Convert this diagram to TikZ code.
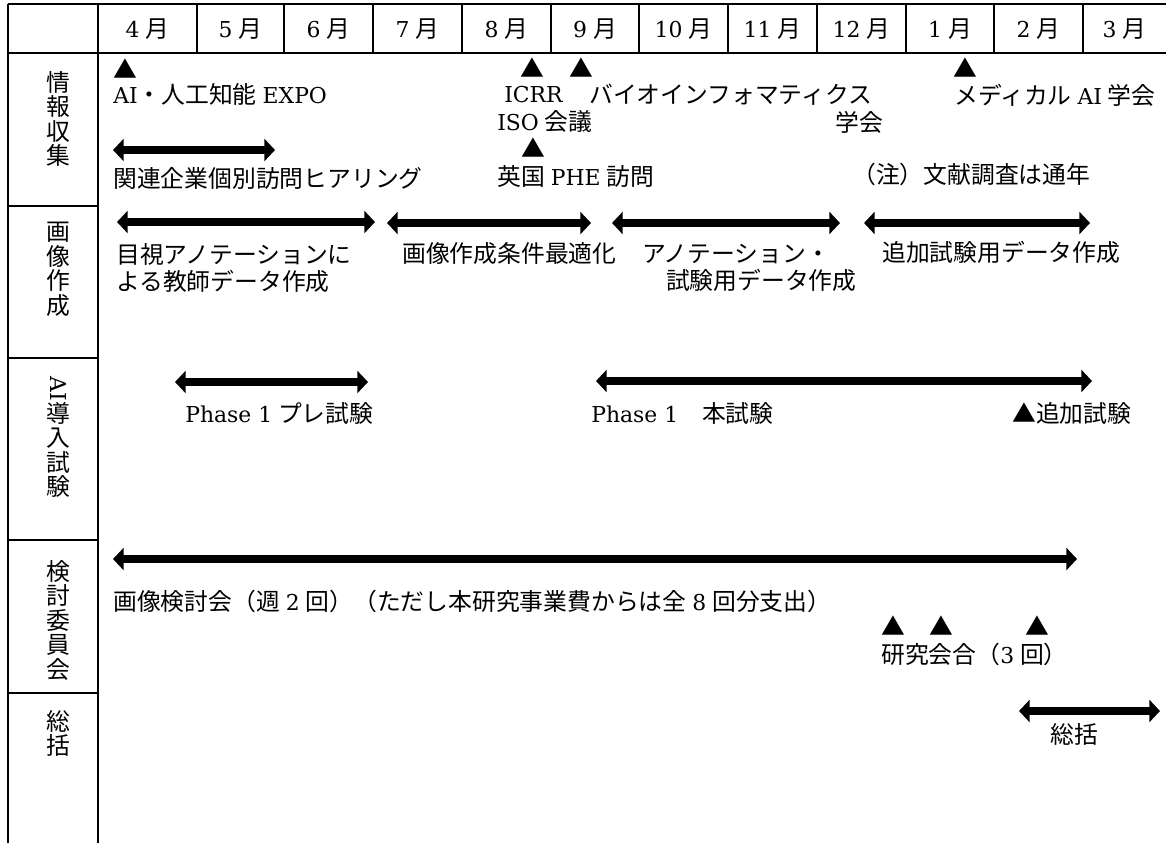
\documentclass[tikz,border=0pt]{standalone}
\usepackage{fontspec}
\newfontfamily\jp{Noto Sans CJK JP}
\newfontfamily\latf{DejaVu Serif}[Scale=0.92]
\usetikzlibrary{arrows.meta}
\newcommand\lat[1]{{\latf #1}}
\newcommand\gp{\hspace{0.25em}}
\begin{document}
\begin{tikzpicture}[x=0.75pt,y=-0.75pt,
  tbl/.style={line width=1.4pt},
  bar/.style={line width=6pt,{Triangle[width=16.5pt,length=8pt]}-{Triangle[width=16.5pt,length=8pt]}},
  txt/.style={font=\jp\fontsize{17.85}{20.5}\selectfont,inner sep=0pt,anchor=west,align=left},
  mon/.style={font=\jp\fontsize{17.85}{20.5}\selectfont,inner sep=0pt,anchor=center},
  lbl/.style={font=\jp\fontsize{17.85}{18.4}\selectfont,inner sep=0pt,anchor=north,align=center},
  tri/.style={font=\jp\fontsize{17.85}{20.5}\selectfont,inner sep=0pt,anchor=center}]
\useasboundingbox (0,0) rectangle (1166,843);
% table frame
\draw[tbl] (8,4) -- (1166,4);
\draw[tbl] (8,53) -- (1166,53);
\draw[tbl] (8,4) -- (8,843);
\draw[tbl] (98,4) -- (98,843);
\foreach \x in {197,284,373,462,551,639,728,817,906,994,1083}
  \draw[tbl] (\x,4) -- (\x,53);
\foreach \y in {206,358,540,693}
  \draw[tbl] (8,\y) -- (98,\y);
% months
\foreach \x/\m/\n in {147.5/4/m4,240.5/5/m5,328.5/6/m6,417.5/7/m7,506.5/8/m8,595/9/m9,683.5/10/m10,772.5/11/m11,861.5/12/m12,950/1/m1,1038.5/2/m2,1124.5/3/m3}
  \node[mon] (\n) at (\x,29) {\lat{\m}\gp 月};
% row labels
\node[lbl] (r1) at (58,71) {情\\報\\収\\集};
\node[lbl] (r2) at (58,222) {画\\像\\作\\成};
\node[lbl] (r3) at (58,376) {\rotatebox{-90}{\lat{AI}}\\導\\入\\試\\験};
\node[lbl] (r4) at (58,560) {検\\討\\委\\員\\会};
\node[lbl] (r5) at (58,710) {総\\括};
% row 1: information gathering
\node[tri] (k1) at (125,69) {▲};
\node[txt] (t1) at (113,94) {\lat{AI}・人工知能\gp\lat{EXPO}};
\node[tri] (k2) at (532,68) {▲};
\node[tri] (k3) at (581,68) {▲};
\node[txt] (t2) at (504,95) {\lat{ICRR}};
\node[txt] (t3) at (589,95) {バイオインフォマティクス};
\node[txt] (t4) at (497,122) {\lat{ISO}\gp 会議};
\node[txt] (t5) at (835,122) {学会};
\node[tri] (k4) at (965,68) {▲};
\node[txt] (t6) at (954,95) {メディカル\gp\lat{AI}\gp 学会};
\coordinate (a1l) at (113,150); \coordinate (a1r) at (275,150);
\draw[bar] (a1l) -- (a1r);
\node[txt] (t7) at (113,178) {関連企業個別訪問ヒアリング};
\node[tri] (k5) at (533,148) {▲};
\node[txt] (t8) at (497,176) {英国\gp\lat{PHE}\gp 訪問};
\node[txt] (t9) at (852,174) {（注）文献調査は通年};
% row 2: image creation
\coordinate (a2l) at (117,222); \coordinate (a2r) at (375,222);
\draw[bar] (a2l) -- (a2r);
\coordinate (a3l) at (387,223); \coordinate (a3r) at (591,223);
\draw[bar] (a3l) -- (a3r);
\coordinate (a4l) at (612,223); \coordinate (a4r) at (840,223);
\draw[bar] (a4l) -- (a4r);
\coordinate (a5l) at (864,223); \coordinate (a5r) at (1090,223);
\draw[bar] (a5l) -- (a5r);
\node[txt] (t10) at (116,268) {目視アノテーションに\\よる教師データ作成};
\node[txt] (t11) at (402,254) {画像作成条件最適化};
\node[txt] (t12) at (642,268) {アノテーション・\\\hspace*{1em}試験用データ作成};
\node[txt] (t13) at (882,252) {追加試験用データ作成};
% row 3: AI trial
\coordinate (a6l) at (175,382); \coordinate (a6r) at (368,382);
\draw[bar] (a6l) -- (a6r);
\coordinate (a7l) at (596,381); \coordinate (a7r) at (1092,381);
\draw[bar] (a7l) -- (a7r);
\node[txt] (t14) at (185,413) {\lat{Phase 1}\gp プレ試験};
\node[txt] (t15) at (591,413) {\lat{Phase 1}　本試験};
\node[txt] (t16) at (1012,413) {▲追加試験};
% row 4: committee
\coordinate (a8l) at (113,559); \coordinate (a8r) at (1077,559);
\draw[bar] (a8l) -- (a8r);
\node[txt] (t17) at (113,601) {画像検討会（週\gp\lat{2}\gp 回）（ただし本研究事業費からは全\gp\lat{8}\gp 回分支出）};
\node[tri] (k6) at (893,626) {▲};
\node[tri] (k7) at (941,626) {▲};
\node[tri] (k8) at (1037,626) {▲};
\node[txt] (t18) at (881,654) {研究会合（\lat{3}\gp 回）};
% row 5: summary
\coordinate (a9l) at (1019,711); \coordinate (a9r) at (1160,711);
\draw[bar] (a9l) -- (a9r);
\node[txt] (t19) at (1050,734) {総括};
\end{tikzpicture}
\end{document}
